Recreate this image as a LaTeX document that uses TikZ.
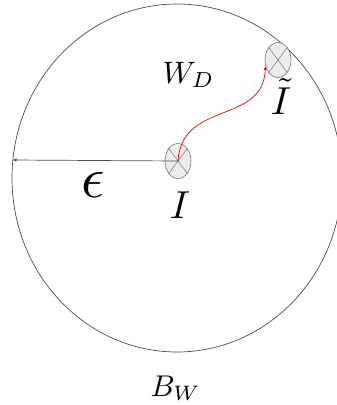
\documentclass[tikz,border=0pt]{standalone}
\usepackage{tikz}
\usetikzlibrary{shapes.geometric,arrows.meta}

\begin{document}
\begin{tikzpicture}[x=1pt,y=-1pt,
  spot/.style={ellipse,draw=gray!90!black,fill=gray!15,line width=0.6pt,minimum width=26pt,minimum height=35pt,inner sep=0pt,
    path picture={\draw[gray!90!black,line width=0.5pt] (path picture bounding box.north west) -- (path picture bounding box.south east)
      (path picture bounding box.north east) -- (path picture bounding box.south west);}},
  lbl/.style={inner sep=0pt,scale=#1}]
\useasboundingbox (0,0) rectangle (337,405);
\clip (0,0) rectangle (337,405);
\draw[gray!60!black,line width=0.7pt] (177,178) ellipse [x radius=165, y radius=174];
\node[spot] (I) at (178,161) {};
\node[spot] (It) at (278,60) {};
\coordinate (rim) at (12.5,160);
\draw[gray!60!black,line width=0.7pt,-{Latex[length=4pt,width=3pt]}] (I.center) -- (rim);
\draw[red,line width=0.7pt,-{Latex[length=4pt,width=3pt]}] (I.center) .. controls (182,100) and (263,125) .. (It.205);
\node[lbl=3.1,anchor=base west] (wd) at (162,83) {$W_D$};
\node[lbl=3.9,anchor=base] (i) at (180,218) {$I$};
\node[lbl=3.9,anchor=base] (it) at (281,114) {$\tilde{I}$};
\node[lbl=5.8,anchor=base] (eps) at (93,197) {$\epsilon$};
\node[lbl=3,anchor=base west] (bw) at (150,396) {$B_W$};
\end{tikzpicture}
\end{document}
